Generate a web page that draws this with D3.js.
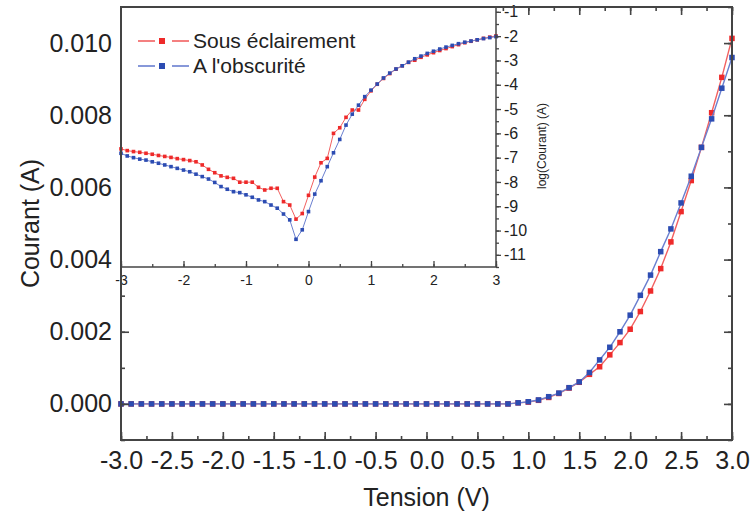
<!DOCTYPE html>
<html><head><meta charset="utf-8">
<script src="https://cdn.jsdelivr.net/npm/d3@7"></script>
<style>body{margin:0;background:#fff}svg{display:block}text{font-family:"Liberation Sans",Arial,sans-serif;fill:#222}</style>
</head><body><svg id="c" width="751" height="520"></svg>
<script>
// ---------- data ----------
const voltage = d3.range(61).map(i => +(-3 + i * 0.1).toFixed(1));
const zeros39 = new Array(39).fill(0);
// main plot: current (A), V = -3.0 .. 3.0 step 0.1
const currentLight = zeros39.concat([0.00003,0.00005,0.0001,0.00018,0.00029,0.00044,0.0006,0.00082,0.00103,0.00136,0.0017,0.00207,0.00256,0.00313,0.00375,0.00449,0.00533,0.00619,0.00711,0.00807,0.00905,0.01013]);
const currentDark = zeros39.concat([0.00003,0.00006,0.00011,0.0002,0.0003,0.00045,0.00061,0.00087,0.00122,0.00157,0.002,0.00246,0.00301,0.00357,0.00422,0.00485,0.00557,0.00631,0.00711,0.0079,0.00875,0.0096]);
// inset: log10(current), V = -3.0 .. 3.0 step 0.1
const logLight = [-6.64,-6.71,-6.75,-6.78,-6.82,-6.86,-6.91,-6.95,-6.99,-7.04,-7.08,-7.12,-7.17,-7.30,-7.48,-7.62,-7.75,-7.81,-7.85,-8.01,-8.01,-8.01,-8.22,-8.33,-8.26,-8.26,-8.81,-8.95,-9.53,-9.30,-8.55,
  -7.80,-7.21,-7.03,-6.00,-5.77,-5.34,-5.04,-5.04,-4.60,-4.25,-3.98,-3.74,-3.54,-3.36,-3.22,-3.08,-2.99,-2.87,-2.77,-2.68,-2.59,-2.51,-2.43,-2.35,-2.27,-2.21,-2.15,-2.09,-2.04,-1.99];
const logDark = [-6.82,-6.93,-7.00,-7.06,-7.10,-7.17,-7.23,-7.30,-7.37,-7.44,-7.51,-7.58,-7.68,-7.78,-7.88,-8.02,-8.19,-8.30,-8.40,-8.44,-8.53,-8.63,-8.74,-8.81,-8.95,-9.08,-9.32,-9.56,-10.36,-9.97,-9.22,
  -8.50,-7.95,-7.37,-6.80,-6.25,-5.66,-5.21,-4.84,-4.49,-4.22,-3.97,-3.72,-3.52,-3.35,-3.22,-3.07,-2.93,-2.82,-2.71,-2.62,-2.53,-2.45,-2.38,-2.31,-2.25,-2.20,-2.15,-2.10,-2.06,-2.02];
const seriesNames = ["Sous éclairement", "A l'obscurité"];
const mainXTicks = d3.range(13).map(i => -3 + i * 0.5);
const mainYTicks = [0, 0.002, 0.004, 0.006, 0.008, 0.010];
const insetXTicks = [-3,-2,-1,0,1,2,3];
const insetYTicks = [-1,-2,-3,-4,-5,-6,-7,-8,-9,-10,-11];

// ---------- layout ----------
const RED = "#ee2a2a", RED_L = "#f26060", BLUE = "#2c4cb2", BLUE_L = "#6a7fd0", AX = "#444";
const hy = f => (d => f(d).replace("\u2212", "-"));
const svg = d3.select("#c");
const M = {l:121, r:732, t:7, b:440};
const x = d3.scaleLinear().domain([-3, 3]).range([M.l, M.r]);
const y = d3.scaleLinear().domain([-0.001, 0.011]).range([M.b, M.t]);

function drawSeries(g, xs, ys, vals, col, lcol, ms, lw) {
  const pts = voltage.map((v, i) => [v, vals[i]]);
  g.append("path").attr("d", d3.line().x(d => xs(d[0])).y(d => ys(d[1]))(pts))
    .attr("fill","none").attr("stroke", lcol).attr("stroke-width", lw);
  g.selectAll(null).data(pts).enter().append("rect")
    .attr("x", d => xs(d[0]) - ms/2).attr("y", d => ys(d[1]) - ms/2)
    .attr("width", ms).attr("height", ms).attr("fill", col);
}
const gm = svg.append("g");
drawSeries(gm, x, y, currentLight, RED, RED_L, 5.5, 1.4);
drawSeries(gm, x, y, currentDark, BLUE, BLUE_L, 5.5, 1.4);

const mainMinorX = d3.range(25).map(i => -3 + i * 0.25);
const mainMinorY = d3.range(13).map(i => -0.001 + i * 0.001);
const tickGroups = [];
function tickPair(axisFn, scale, tr, major, minor, big, small) {
  const a = svg.append("g").attr("transform", tr).call(axisFn(scale).tickValues(minor).tickSize(small).tickFormat(""));
  const b = svg.append("g").attr("transform", tr).call(axisFn(scale).tickValues(major).tickSize(big).tickFormat(""));
  tickGroups.push(a, b);
}
tickPair(d3.axisTop, x, `translate(0,${M.b})`, mainXTicks, mainMinorX, 8, 4);
tickPair(d3.axisBottom, x, `translate(0,${M.t})`, mainXTicks, mainMinorX, 8, 4);
tickPair(d3.axisRight, y, `translate(${M.l},0)`, mainYTicks, mainMinorY, 8, 4);
tickPair(d3.axisLeft, y, `translate(${M.r},0)`, mainYTicks, mainMinorY, 8, 4);
tickGroups.forEach(g => { g.select(".domain").remove(); g.selectAll("line").attr("stroke", AX).attr("stroke-width", 1.6); });
svg.append("g").attr("transform", `translate(0,${M.b})`)
  .call(d3.axisBottom(x).tickValues(mainXTicks).tickSize(0).tickPadding(11).tickFormat(hy(d3.format(".1f"))))
  .call(g => { g.select(".domain").remove(); g.selectAll("text").style("font-size","25px").attr("fill","#222"); });
svg.append("g").attr("transform", `translate(${M.l},0)`)
  .call(d3.axisLeft(y).tickValues(mainYTicks).tickSize(0).tickPadding(9).tickFormat(d3.format(".3f")))
  .call(g => { g.select(".domain").remove(); g.selectAll("text").style("font-size","25px").attr("fill","#222"); });

// ---------- inset ----------
const I = {l:121, r:496, t:7, b:267};
const xi = d3.scaleLinear().domain([-3, 3]).range([I.l, I.r]);
const yi = d3.scaleLinear().domain([-11.5, -0.8]).range([I.b, I.t]);
svg.append("rect").attr("x", I.l).attr("y", I.t).attr("width", I.r - I.l).attr("height", I.b - I.t).attr("fill", "#fff");
const gi = svg.append("g");
drawSeries(gi, xi, yi, logLight, RED, RED_L, 3.6, 1);
drawSeries(gi, xi, yi, logDark, BLUE, BLUE_L, 3.6, 1);
const itg = [];
const ib = svg.append("g").attr("transform", `translate(0,${I.b})`)
  .call(d3.axisTop(xi).tickValues(d3.range(13).map(i => -3 + i * 0.5)).tickSize(3).tickFormat(""));
const ib2 = svg.append("g").attr("transform", `translate(0,${I.b})`)
  .call(d3.axisTop(xi).tickValues(insetXTicks).tickSize(6).tickFormat(""));
svg.append("g").attr("transform", `translate(0,${I.b})`)
  .call(d3.axisBottom(xi).tickValues(insetXTicks).tickSize(0).tickPadding(8).tickFormat(hy(d3.format("d"))))
  .call(g => { g.select(".domain").remove(); g.selectAll("text").style("font-size","14px").attr("fill","#333"); });
const ir = svg.append("g").attr("transform", `translate(${I.r},0)`)
  .call(d3.axisRight(yi).tickValues(d3.range(22).map(i => -11.5 + i * 0.5)).tickSize(3).tickFormat(""));
const ir2 = svg.append("g").attr("transform", `translate(${I.r},0)`)
  .call(d3.axisRight(yi).tickValues(insetYTicks).tickSize(5).tickPadding(3).tickFormat(hy(d3.format("d"))));
ir2.selectAll("text").style("font-size","16px").attr("fill","#333");
[ib,ib2,ir,ir2].forEach(g => { g.select(".domain").remove(); g.selectAll("line").attr("stroke", AX).attr("stroke-width", 1.3); });
svg.append("line").attr("x1", I.l).attr("x2", I.r).attr("y1", I.b).attr("y2", I.b).attr("stroke", AX).attr("stroke-width", 1.5);
svg.append("line").attr("x1", I.r).attr("x2", I.r).attr("y1", I.t).attr("y2", I.b).attr("stroke", AX).attr("stroke-width", 1.5);
svg.append("text").attr("transform", `translate(546,146) rotate(-90)`)
  .attr("text-anchor","middle").style("font-size","12px").attr("fill","#444").text("log(Courant) (A)");

// main frame
svg.append("rect").attr("x", M.l).attr("y", M.t).attr("width", M.r - M.l).attr("height", M.b - M.t)
  .attr("fill","none").attr("stroke", AX).attr("stroke-width", 2);

// legend
const lg = svg.append("g");
[[RED, RED_L], [BLUE, BLUE_L]].forEach((c, i) => {
  const yy = 41 + i * 25;
  lg.append("line").attr("x1",138).attr("x2",155).attr("y1",yy).attr("y2",yy).attr("stroke",c[1]).attr("stroke-width",1.6);
  lg.append("line").attr("x1",172).attr("x2",189).attr("y1",yy).attr("y2",yy).attr("stroke",c[1]).attr("stroke-width",1.6);
  lg.append("rect").attr("x",159).attr("y",yy-3).attr("width",6).attr("height",6).attr("fill",c[0]);
  lg.append("text").attr("x",193).attr("y",yy+7).style("font-size","21px").attr("fill","#222").text(seriesNames[i]);
});

// axis titles
svg.append("text").attr("x", (M.l + M.r) / 2).attr("y", 506).attr("text-anchor","middle").style("font-size","25px").text("Tension (V)");
svg.append("text").attr("transform", `translate(39,${(M.t + M.b) / 2}) rotate(-90)`).attr("text-anchor","middle").style("font-size","25px").text("Courant (A)");
</script></body></html>
